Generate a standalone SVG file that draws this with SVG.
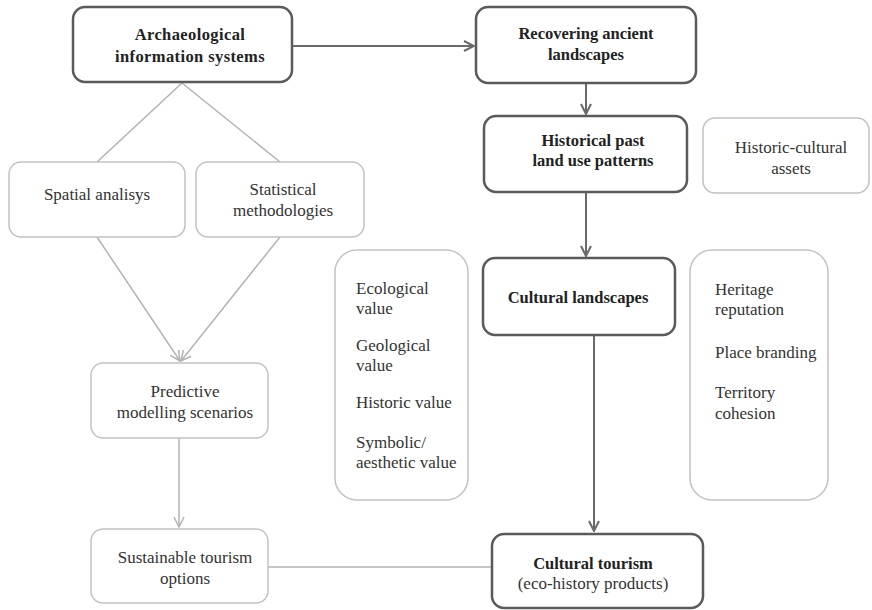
<svg xmlns="http://www.w3.org/2000/svg" width="872" height="610" viewBox="0 0 872 610">
<defs>
<style>
.dk{fill:#fff;stroke:#5a5a5a;stroke-width:2.5}
.lt{fill:#fff;stroke:#c2c2c2;stroke-width:1.5}
.cd{fill:none;stroke:#6a6a6a;stroke-width:2}
.cl{fill:none;stroke:#b3b3b3;stroke-width:1.5}
text{font-family:"Liberation Serif","Times New Roman",serif;font-size:17px;fill:#333}
.b{font-weight:bold;fill:#222;font-size:16.5px}
.c{text-anchor:middle}
</style>
<marker id="ad" viewBox="0 0 12 12" refX="11" refY="6" markerWidth="12" markerHeight="12" markerUnits="userSpaceOnUse" orient="auto">
<path d="M1,1 L11,6 L1,11" fill="none" stroke="#6a6a6a" stroke-width="2"/>
</marker>
<marker id="al" viewBox="0 0 12 12" refX="11" refY="6" markerWidth="12" markerHeight="12" markerUnits="userSpaceOnUse" orient="auto">
<path d="M1,1 L11,6 L1,11" fill="none" stroke="#b3b3b3" stroke-width="1.5"/>
</marker>
</defs>
<rect width="872" height="610" fill="#fff"/>
<g id="connectors">
<line class="cd" x1="293" y1="46" x2="474" y2="46" marker-end="url(#ad)"/>
<line class="cd" x1="586" y1="83" x2="586" y2="114" marker-end="url(#ad)"/>
<line class="cd" x1="586" y1="193" x2="586" y2="256" marker-end="url(#ad)"/>
<line class="cd" x1="594" y1="336" x2="594" y2="531" marker-end="url(#ad)"/>
<line class="cl" x1="182" y1="83" x2="97" y2="162"/>
<line class="cl" x1="182" y1="83" x2="280" y2="162"/>
<line class="cl" x1="97" y1="237" x2="180" y2="361" marker-end="url(#al)"/>
<line class="cl" x1="280" y1="237" x2="181" y2="361" marker-end="url(#al)"/>
<line class="cl" x1="179" y1="438" x2="179" y2="527" marker-end="url(#al)"/>
<line class="cl" x1="268" y1="567" x2="492" y2="567"/>
</g>
<g id="archaeological">
<rect class="dk" x="73" y="7" width="219" height="75" rx="12"/>
<text class="b c" x="190" y="40" letter-spacing="0.4">Archaeological</text>
<text class="b c" x="190" y="62" letter-spacing="0.4">information systems</text>
</g>
<g id="recovering">
<rect class="dk" x="476" y="7" width="220" height="76" rx="12"/>
<text class="b c" x="586" y="39">Recovering ancient</text>
<text class="b c" x="586" y="60">landscapes</text>
</g>
<g id="historical">
<rect class="dk" x="484" y="116" width="203" height="76" rx="12"/>
<text class="b c" x="593" y="146">Historical past</text>
<text class="b c" x="593" y="166">land use patterns</text>
</g>
<g id="assets">
<rect class="lt" x="703" y="118" width="166" height="75" rx="12"/>
<text class="c" x="791" y="153">Historic-cultural</text>
<text class="c" x="791" y="174">assets</text>
</g>
<g id="spatial">
<rect class="lt" x="9" y="162" width="176" height="75" rx="12"/>
<text class="c" x="97" y="200">Spatial analisys</text>
</g>
<g id="statistical">
<rect class="lt" x="196" y="162" width="168" height="75" rx="12"/>
<text class="c" x="283" y="195">Statistical</text>
<text class="c" x="283" y="216">methodologies</text>
</g>
<g id="values">
<rect class="lt" x="335" y="250" width="133" height="250" rx="22"/>
<text x="356" y="294">Ecological</text>
<text x="356" y="314">value</text>
<text x="356" y="351">Geological</text>
<text x="356" y="371">value</text>
<text x="356" y="408">Historic value</text>
<text x="356" y="448">Symbolic/</text>
<text x="356" y="468">aesthetic value</text>
</g>
<g id="cultural-landscapes">
<rect class="dk" x="483" y="258" width="192" height="77" rx="12"/>
<text class="b c" x="578" y="303">Cultural landscapes</text>
</g>
<g id="reputation">
<rect class="lt" x="690" y="250" width="138" height="250" rx="22"/>
<text x="715" y="295">Heritage</text>
<text x="715" y="315">reputation</text>
<text x="715" y="358">Place branding</text>
<text x="715" y="398">Territory</text>
<text x="715" y="419">cohesion</text>
</g>
<g id="predictive">
<rect class="lt" x="91" y="363" width="177" height="75" rx="12"/>
<text class="c" x="185" y="397">Predictive</text>
<text class="c" x="185" y="418">modelling scenarios</text>
</g>
<g id="sustainable">
<rect class="lt" x="91" y="529" width="177" height="74" rx="12"/>
<text class="c" x="185" y="563">Sustainable tourism</text>
<text class="c" x="185" y="584">options</text>
</g>
<g id="cultural-tourism">
<rect class="dk" x="492" y="534" width="211" height="74" rx="12"/>
<text class="b c" x="593" y="569">Cultural tourism</text>
<text class="c" x="593" y="589">(eco-history products)</text>
</g>
</svg>
